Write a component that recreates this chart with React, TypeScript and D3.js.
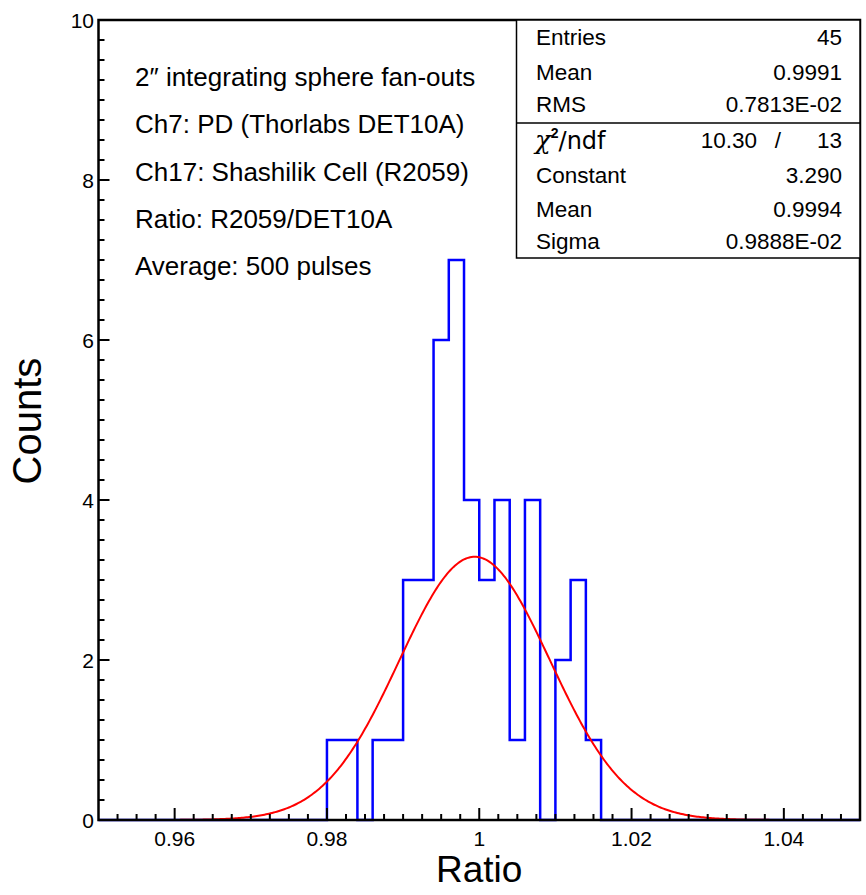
import * as d3 from 'd3';

// histogram: 50 bins of width 0.002 between 0.95 and 1.05
const binLow = 0.95;
const binWidth = 0.002;
const counts = [
  0, 0, 0, 0, 0, 0, 0, 0, 0, 0,
  0, 0, 0, 0, 0, 1, 1, 0, 1, 1,
  3, 3, 6, 7, 4, 3, 4, 1, 4, 0,
  2, 3, 1, 0, 0, 0, 0, 0, 0, 0,
  0, 0, 0, 0, 0, 0, 0, 0, 0, 0,
];

// gaussian fit (from the stats box)
const fitConstant = 3.29;
const fitMean = 0.9994;
const fitSigma = 0.009888;
const fitRange = [0.9584, 1.04];

const xTicks = [0.96, 0.98, 1.0, 1.02, 1.04];
const xTickLabels = ['0.96', '0.98', '1', '1.02', '1.04'];
const yTicks = [0, 2, 4, 6, 8, 10];

const notes = [
  '2\u2033 integrating sphere fan-outs',
  'Ch7: PD (Thorlabs DET10A)',
  'Ch17: Shashilik Cell (R2059)',
  'Ratio: R2059/DET10A',
  'Average: 500 pulses',
];

const statsTop = [
  ['Entries', '45'],
  ['Mean', '0.9991'],
  ['RMS', '0.7813E-02'],
];
const statsFit = [
  ['Constant', '3.290'],
  ['Mean', '0.9994'],
  ['Sigma', '0.9888E-02'],
];

const W = 866;
const H = 895;
const left = 98.5;
const right = 860;
const top = 20;
const bottom = 820;
const font = '"Liberation Sans", Arial, Helvetica, sans-serif';

export default function App() {
  const x = d3.scaleLinear().domain([0.95, 1.05]).range([left, right]);
  const y = d3.scaleLinear().domain([0, 10]).range([bottom, top]);

  // step outline of the histogram
  let hist = `M${x(binLow)},${y(0)}`;
  counts.forEach((c, i) => {
    hist += `V${y(c)}H${x(binLow + (i + 1) * binWidth)}`;
  });
  hist += `V${y(0)}`;

  const gaus = (v: number) =>
    fitConstant * Math.exp(-0.5 * ((v - fitMean) / fitSigma) ** 2);
  const fitX = d3.range(fitRange[0], fitRange[1] + 1e-9, 0.0002);
  const fitLine = d3
    .line<number>()
    .x((d) => x(d))
    .y((d) => y(gaus(d)))(fitX);

  const xMinor = d3.range(0.9525, 1.05, 0.0025).filter(
    (v) => !xTicks.some((t) => Math.abs(t - v) < 1e-6)
  );
  const yMinor = d3.range(0.25, 10, 0.25).filter((v) => v % 2 !== 0);

  const rowY = [45, 80, 112];
  const fitRowY = [183, 217, 249];
  const boxLeft = 516.5;

  return (
    <svg
      width={W}
      height={H}
      style={{ position: 'absolute', left: 0, top: 0, background: '#fff' }}
      fontFamily={font}
    >
      {/* histogram and fit */}
      <path d={hist} fill="none" stroke="#0000ff" strokeWidth={2.5} />
      <path d={fitLine ?? ''} fill="none" stroke="#ff0000" strokeWidth={2} />

      {/* ticks */}
      {xTicks.map((t) => (
        <line key={'xt' + t} x1={x(t)} x2={x(t)} y1={bottom} y2={bottom - 12} stroke="#000" strokeWidth={2} />
      ))}
      {xMinor.map((t, i) => (
        <line key={'xm' + i} x1={x(t)} x2={x(t)} y1={bottom} y2={bottom - 6} stroke="#000" strokeWidth={2} />
      ))}
      {yTicks.map((t) => (
        <line key={'yt' + t} x1={left} x2={left + 11} y1={y(t)} y2={y(t)} stroke="#000" strokeWidth={2} />
      ))}
      {yMinor.map((t, i) => (
        <line key={'ym' + i} x1={left} x2={left + 6} y1={y(t)} y2={y(t)} stroke="#000" strokeWidth={2} />
      ))}

      {/* frame */}
      <rect x={left} y={top} width={right - left} height={bottom - top} fill="none" stroke="#000" strokeWidth={2.5} />

      {/* tick labels */}
      {xTicks.map((t, i) => (
        <text key={'xl' + t} x={x(t)} y={846} textAnchor="middle" fontSize={21}>
          {xTickLabels[i]}
        </text>
      ))}
      {yTicks.map((t) => (
        <text key={'yl' + t} x={94} y={y(t) + 7.5} textAnchor="end" fontSize={21}>
          {t}
        </text>
      ))}

      {/* axis titles */}
      <text x={x(1.0)} y={882} textAnchor="middle" fontSize={37}>
        Ratio
      </text>
      <text transform="translate(41,421) rotate(-90)" textAnchor="middle" fontSize={40}>
        Counts
      </text>

      {/* notes */}
      {notes.map((n, i) => (
        <text key={'n' + i} x={135} y={86 + i * 47.3} fontSize={26}>
          {n}
        </text>
      ))}

      {/* stats box */}
      <rect x={boxLeft} y={top} width={right - boxLeft} height={258 - top} fill="#fff" stroke="#000" strokeWidth={1.5} />
      <line x1={boxLeft} x2={right} y1={123} y2={123} stroke="#000" strokeWidth={1.5} />
      {statsTop.map(([k, v], i) => (
        <g key={'s' + i} fontSize={22.5}>
          <text x={536} y={rowY[i]}>{k}</text>
          <text x={842} y={rowY[i]} textAnchor="end">{v}</text>
        </g>
      ))}
      <text x={535} y={149} fontSize={26}>
        <tspan fontFamily='"DejaVu Serif", serif' fontStyle="italic">χ</tspan>
        <tspan fontSize={14} dy={-11} fontWeight="bold">2</tspan>
        <tspan dy={11} fontFamily='"DejaVu Sans", sans-serif' fontSize={24}>/ndf</tspan>
      </text>
      <text x={757} y={148} fontSize={22.5} textAnchor="end">10.30</text>
      <text x={778} y={148} fontSize={22.5} textAnchor="middle">/</text>
      <text x={842} y={148} fontSize={22.5} textAnchor="end">13</text>
      {statsFit.map(([k, v], i) => (
        <g key={'f' + i} fontSize={22.5}>
          <text x={536} y={fitRowY[i]}>{k}</text>
          <text x={842} y={fitRowY[i]} textAnchor="end">{v}</text>
        </g>
      ))}
    </svg>
  );
}
